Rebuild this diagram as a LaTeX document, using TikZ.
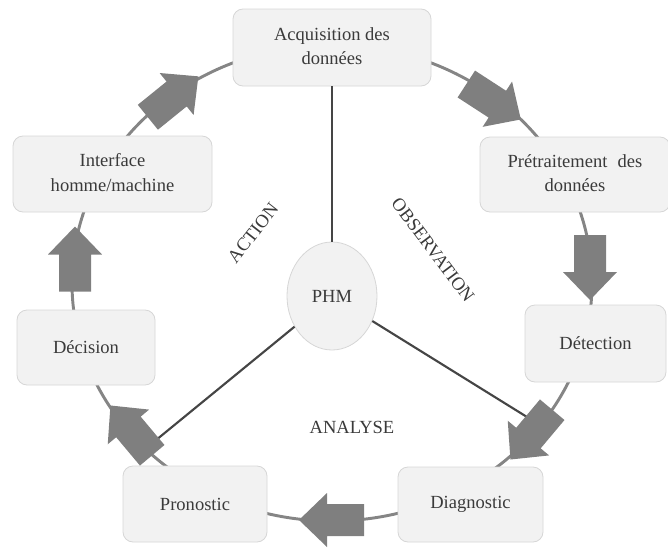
\documentclass[tikz,border=0pt]{standalone}
\usepackage{fontspec}
\setmainfont{Liberation Serif}
\usetikzlibrary{shapes.geometric}
\definecolor{boxfill}{HTML}{F2F2F2}
\definecolor{boxline}{HTML}{D6D6D6}
\definecolor{ringgray}{HTML}{858585}
\definecolor{spokegray}{HTML}{454545}
\definecolor{arrowgray}{HTML}{7F7F7F}
\definecolor{txt}{HTML}{3A3A3A}
% two-line label, lowered a little inside its box
\newcommand\twolines[2]{\raisebox{-5pt}{\begin{tabular}{@{}c@{}}#1\\#2\end{tabular}}}
% thick block arrow centred at (#1,#2), pointing at angle #3
\newcommand\blockarrowat[3]{%
  \fill[barrow, shift={(#1,#2)}, rotate=#3]
    (-33,-16) -- (4,-16) -- (4,-27) -- (32,0) -- (4,27) -- (4,16) -- (-33,16) -- cycle;}
\begin{document}
\begin{tikzpicture}[x=0.75pt, y=-0.75pt,
  stage/.style={draw=boxline, line width=0.6pt, fill=boxfill, rounded corners=7.5pt,
    inner sep=0pt, align=center, text=txt, font=\fontsize{13.9}{18.5}\selectfont},
  hub/.style={ellipse, draw=boxline, line width=0.6pt, fill=boxfill,
    minimum width=67.5pt, minimum height=81pt, inner sep=0pt, text=txt,
    font=\fontsize{13.9}{18.5}\selectfont},
  ring/.style={draw=ringgray, line width=2.2pt},
  spoke/.style={draw=spokegray, line width=1.6pt},
  barrow/.style={fill=arrowgray},
  phase/.style={text=txt, inner sep=0pt, font=\fontsize{13.9}{18.5}\selectfont}
]
\useasboundingbox (0,0) rectangle (668,550);

% the cycle
\draw[ring] (332,283) ellipse [x radius=195pt, y radius=178.5pt];

% centre
\node[hub] (phm) at (332,296) {PHM};

% stages
\node[stage, minimum width=148.5pt, minimum height=57.75pt] (acq) at (332,47.5)
  {\twolines{Acquisition des}{données}};
\node[stage, minimum width=142.5pt, minimum height=56.25pt] (pre) at (575,174.5)
  {\twolines{Prétraitement\hspace{0.55em}des}{données}};
\node[stage, minimum width=105.75pt, minimum height=57.75pt] (det) at (595.5,343.5) {Détection};
\node[stage, minimum width=108.75pt, minimum height=56.25pt] (dia) at (470.5,504.5) {Diagnostic};
\node[stage, minimum width=108pt, minimum height=57pt] (pro) at (195,504) {Pronostic};
\node[stage, minimum width=103.5pt, minimum height=56.25pt] (dec) at (86,347.5) {Décision};
\node[stage, minimum width=149.25pt, minimum height=57pt] (hmi) at (112.5,174)
  {\twolines{Interface}{homme/machine}};

% spokes from the centre
\coordinate (spokeL) at (150,445);
\coordinate (spokeR) at (527,417);
\draw[spoke] (phm) -- (acq);
\draw[spoke] (phm) -- (spokeL);
\draw[spoke] (phm) -- (spokeR);

% flow arrows along the cycle
\blockarrowat{173.5}{96.5}{39}
\blockarrowat{494}{102}{-33}
\blockarrowat{590}{268}{-90}
\blockarrowat{531}{435}{230}
\blockarrowat{331}{520}{180}
\blockarrowat{131}{430}{130}
\blockarrowat{75}{258.5}{90}

% phase labels
\node[phase, rotate=52] (action) at (253,233) {ACTION};
\node[phase, rotate=-53] (observation) at (433,250) {OBSERVATION};
\node[phase] (analyse) at (352,427) {ANALYSE};
\end{tikzpicture}
\end{document}
